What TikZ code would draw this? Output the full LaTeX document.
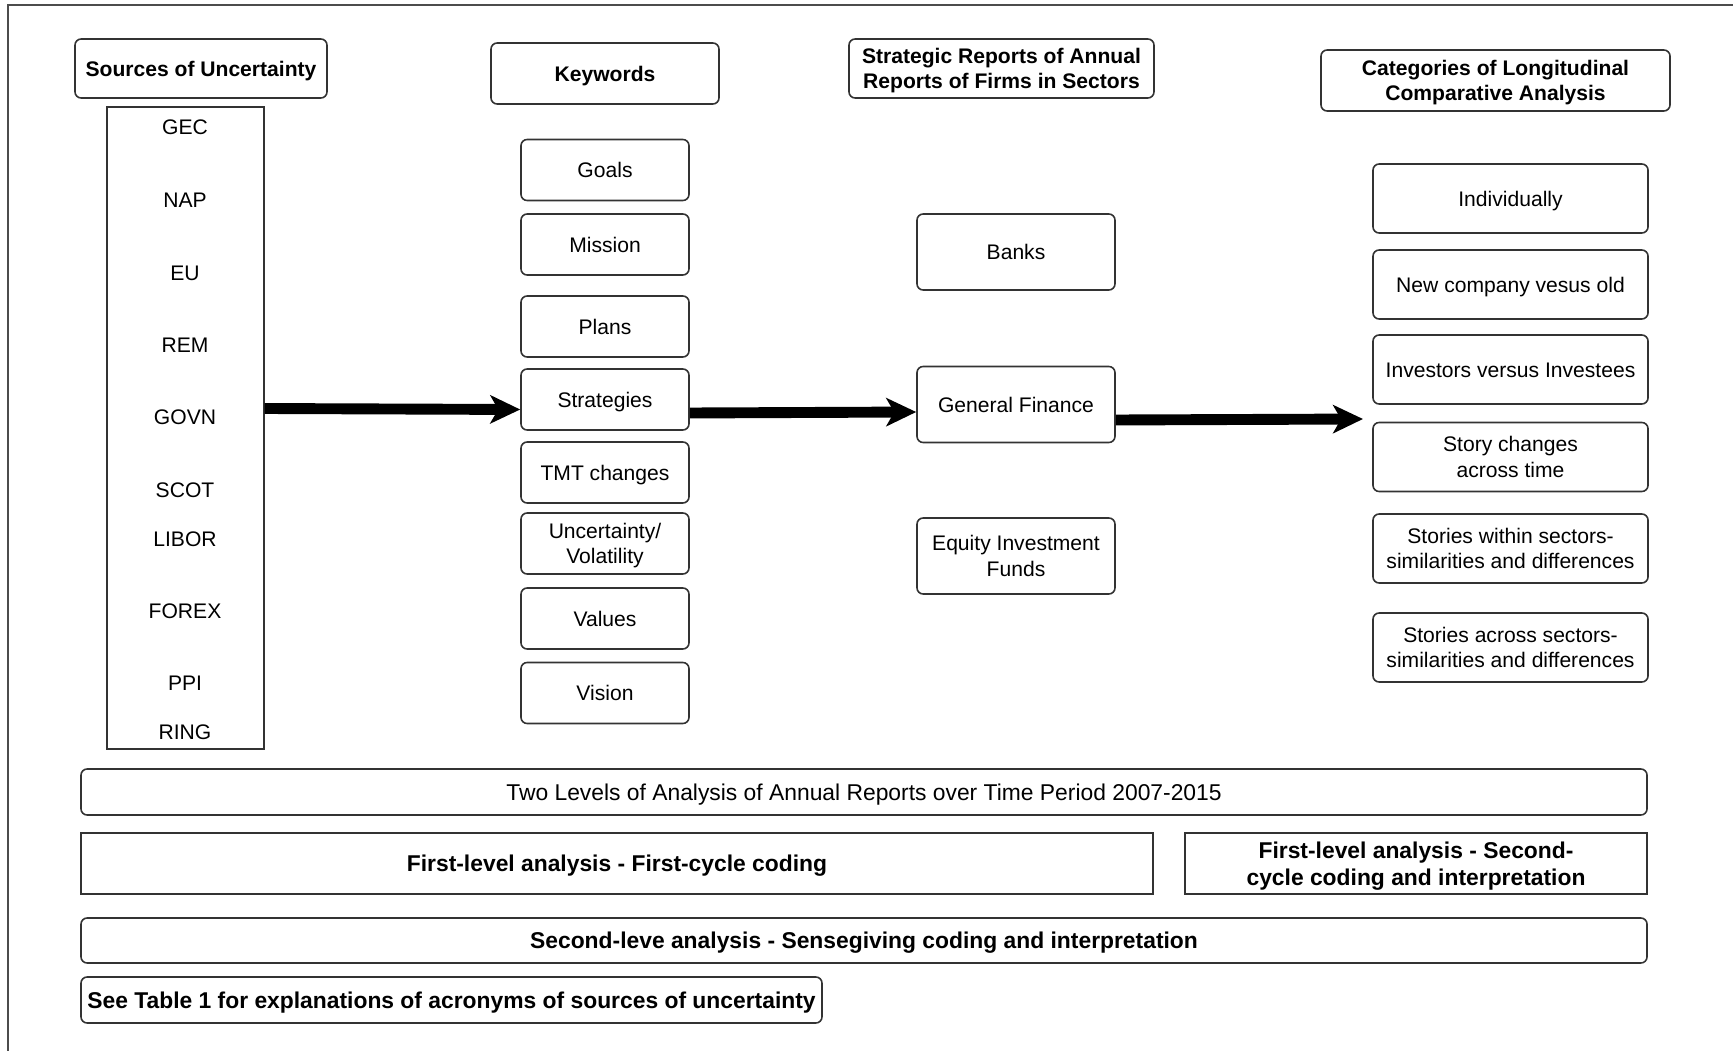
\documentclass[tikz,border=0pt]{standalone}
\usepackage{fontspec}
\setmainfont{Liberation Sans}
\usepackage{tikz}
\usetikzlibrary{arrows.meta}

\newcommand{\nodestrut}{\rule[-0.22em]{0pt}{1.16em}}

\begin{document}
\begin{tikzpicture}[
    x=0.2mm, y=-0.2mm,
    head/.style={rectangle, draw=black!80, rounded corners=3.5pt, line width=0.9pt, align=center, inner sep=2pt, execute at begin node=\nodestrut, font=\fontsize{12}{14.4}\selectfont\bfseries},
    kw/.style={rectangle, draw=black!80, rounded corners=3.5pt, line width=0.9pt, align=center, inner sep=2pt, execute at begin node=\nodestrut, minimum width=3.36cm, minimum height=1.22cm, font=\fontsize{12}{14.4}\selectfont},
    sector/.style={kw, minimum width=3.96cm, minimum height=1.52cm},
    cat/.style={kw, minimum width=5.5cm, minimum height=1.38cm},
    band/.style={kw, minimum width=31.32cm, minimum height=0.92cm, font=\fontsize{13}{15.6}\selectfont},
    bandbold/.style={band, font=\fontsize{13}{15.6}\selectfont\bfseries},
    acr/.style={inner sep=0pt, font=\fontsize{12}{14.4}\selectfont},
    bigarrow/.style={line width=6.2pt, -{Stealth[length=17pt, width=16pt, inset=4.5pt]}},
]
    \useasboundingbox (0,0) rectangle (1733,1051);
    % Outer frame (top and left only)
    \draw[black!70, line width=1pt] (1733,5) -- (8,5) -- (8,1051);

    % Sources of uncertainty
    \node[head, minimum width=5.04cm, minimum height=1.18cm] at (201,68.5) (srchead) {Sources of Uncertainty};
    \node[rectangle, draw=black!80, line width=0.8pt, minimum width=3.14cm, minimum height=12.84cm] at (185.5,428) (acro) {};
    \node[acr] at (185,127) (gec) {GEC};
    \node[acr] at (185,200) (nap) {NAP};
    \node[acr] at (185,273) (eu) {EU};
    \node[acr] at (185,345) (rem) {REM};
    \node[acr] at (185,417) (govn) {GOVN};
    \node[acr] at (185,490) (scot) {SCOT};
    \node[acr] at (185,539) (libor) {LIBOR};
    \node[acr] at (185,611) (forex) {FOREX};
    \node[acr] at (185,683) (ppi) {PPI};
    \node[acr] at (185,732) (ring) {RING};

    % Keywords
    \node[head, minimum width=4.56cm, minimum height=1.22cm] at (605,73.5) (kwhead) {Keywords};
    \node[kw] at (605,170) (goals) {Goals};
    \node[kw] at (605,244.5) (mission) {Mission};
    \node[kw] at (605,326.5) (plans) {Plans};
    \node[kw] at (605,399.5) (strat) {Strategies};
    \node[kw] at (605,472.5) (tmt) {TMT changes};
    \node[kw] at (605,543.5) (volat) {\nodestrut Uncertainty/\\Volatility};
    \node[kw] at (605,618.5) (values) {Values};
    \node[kw] at (605,693) (vision) {Vision};

    % Sectors
    \node[head, minimum width=6.1cm, minimum height=1.18cm] at (1001.5,68.5) (sechead) {\nodestrut Strategic Reports of Annual\\Reports of Firms in Sectors};
    \node[sector] at (1016,252) (banks) {Banks};
    \node[sector] at (1016,404.5) (genfin) {General Finance};
    \node[sector] at (1016,556) (equity) {\nodestrut Equity Investment\\Funds};

    % Categories of analysis
    \node[head, minimum width=6.98cm, minimum height=1.22cm] at (1495.5,80.5) (cathead) {\nodestrut Categories of Longitudinal\\Comparative Analysis};
    \node[cat] at (1510.5,198.5) (indiv) {Individually};
    \node[cat] at (1510.5,284.5) (newold) {New company vesus old};
    \node[cat] at (1510.5,369.5) (invest) {Investors versus Investees};
    \node[cat] at (1510.5,457) (story) {\nodestrut Story changes\\across time};
    \node[cat] at (1510.5,548.5) (within) {\nodestrut Stories within sectors-\\similarities and differences};
    \node[cat] at (1510.5,647.5) (across) {\nodestrut Stories across sectors-\\similarities and differences};
    \coordinate (cattip) at (1363,419);

    % Arrows
    \draw[bigarrow] ([yshift=0.39cm]acro.east) -- ([yshift=-0.2cm]strat.west);
    \draw[bigarrow] ([yshift=-0.27cm]strat.east) -- ([yshift=-0.15cm]genfin.west);
    \draw[bigarrow] ([yshift=-0.31cm]genfin.east) -- (cattip);

    % Levels of analysis
    \node[band] at (864,792) (period) {Two Levels of Analysis of Annual Reports over Time Period 2007-2015};
    \node[bandbold, rounded corners=0pt, minimum width=21.44cm, minimum height=1.22cm] at (617,863.5) (firstcyc) {First-level analysis - First-cycle coding};
    \node[bandbold, rounded corners=0pt, minimum width=9.24cm, minimum height=1.22cm] at (1416,863.5) (secondcyc) {\nodestrut First-level analysis - Second-\\cycle coding and interpretation};
    \node[bandbold, minimum height=0.9cm] at (864,940.5) (sense) {Second-leve analysis - Sensegiving coding and interpretation};
    \node[bandbold, minimum width=14.82cm] at (451.5,1000) (note) {See Table 1 for explanations of acronyms of sources of uncertainty};

\end{tikzpicture}
\end{document}
